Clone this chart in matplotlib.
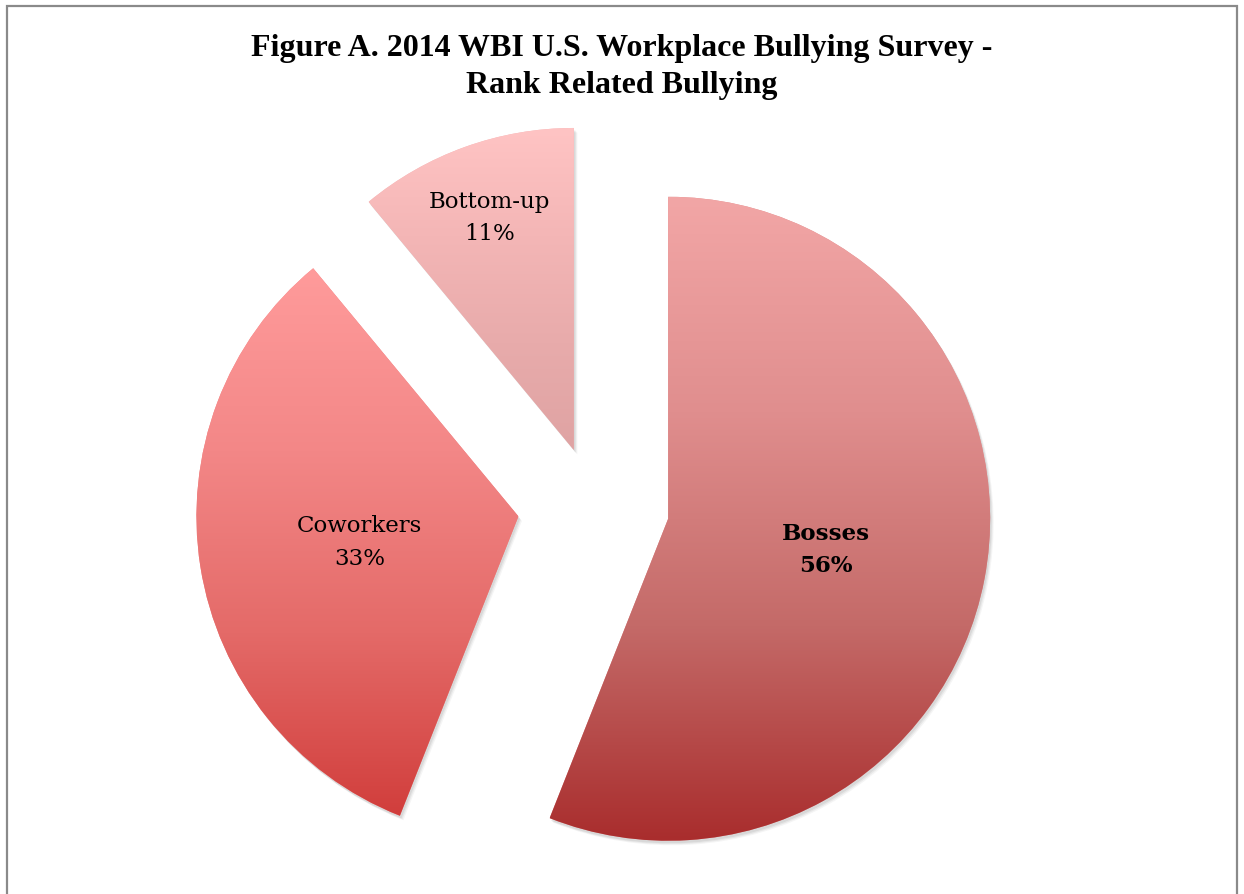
#!/usr/bin/env python3
"""
Figure A. 2014 WBI U.S. Workplace Bullying Survey - rank related bullying.
Exploded pie with vertical gradient fills per slice.
"""

import numpy as np
import matplotlib.pyplot as plt
from matplotlib.colors import LinearSegmentedColormap
from matplotlib.patches import Rectangle, Wedge

# =============================================================================
# DATA
# =============================================================================
LABELS = ["Bosses", "Coworkers", "Bottom-up"]
SHARES = [56, 33, 11]
EXPLODE = [0.236, 0.236, 0.18]
LABEL_POS = [0.50, 0.50, 0.77]      # fraction of radius along the bisector
LABEL_BOLD = [True, False, False]

# gradient stops (top -> bottom) for each slice
GRADIENTS = [
    ["#F2A6A6", "#E08E8E", "#C46A68", "#A92D2D"],
    ["#FF9B9B", "#F38787", "#E46A68", "#D13E3C"],
    ["#FFC4C4", "#F4B6B6", "#E8ABAB", "#DFA3A3"],
]

TITLE = "Figure A. 2014 WBI U.S. Workplace Bullying Survey -\nRank Related Bullying"

# =============================================================================
# LAYOUT (pixels of the 1244x895 canvas)
# =============================================================================
W, H = 1244, 895
CX, CY = 593.5, 505.5   # pie centre (px, from top-left)
R_PX = 322.0            # radius in px


def add_gradient(ax, wedge, colors):
    x0, y0, x1, y1 = wedge.get_path().get_extents(wedge.get_patch_transform()).extents
    cmap = LinearSegmentedColormap.from_list("g", colors)
    grad = np.linspace(0, 1, 256).reshape(-1, 1)
    im = ax.imshow(grad, cmap=cmap, aspect="auto", origin="upper",
                   extent=(x0, x1, y0, y1), interpolation="bicubic", zorder=2)
    im.set_clip_path(wedge)


def main() -> None:
    fig = plt.figure(figsize=(W / 100, H / 100), dpi=100)
    ax = fig.add_axes([0, 0, 1, 1])

    wedges, _ = ax.pie(SHARES, explode=EXPLODE, startangle=90, counterclock=False,
                       radius=1.0, wedgeprops=dict(linewidth=0))

    px = 1.0 / R_PX
    for i, w in enumerate(wedges):
        w.set_zorder(2)
        w.set_facecolor(GRADIENTS[i][1])
        # soft drop shadow
        for k, a in enumerate([0.10, 0.08, 0.06]):
            sh = Wedge((w.center[0] + (1.5 + k) * px, w.center[1] - (2.5 + k) * px),
                       w.r, w.theta1, w.theta2, facecolor="#555555",
                       edgecolor="none", alpha=a, zorder=1)
            ax.add_patch(sh)
        add_gradient(ax, w, GRADIENTS[i])

        thetam = np.deg2rad(0.5 * (w.theta1 + w.theta2))
        tx = w.center[0] + LABEL_POS[i] * w.r * np.cos(thetam)
        ty = w.center[1] + LABEL_POS[i] * w.r * np.sin(thetam)
        ax.text(tx, ty, f"{LABELS[i]}\n{SHARES[i]}%", ha="center", va="center",
                fontsize=16.5, family="DejaVu Serif", linespacing=1.6,
                fontweight="bold" if LABEL_BOLD[i] else "normal",
                color="black", zorder=5)

    ax.set_xlim(-CX / R_PX, (W - CX) / R_PX)
    ax.set_ylim((CY - H) / R_PX, CY / R_PX)
    ax.set_aspect("equal")
    ax.axis("off")

    fig.text(0.5, 1 - 67 / H, TITLE, ha="center", va="center",
             fontsize=23, fontweight="bold", family="Liberation Serif",
             linespacing=1.35)

    # chart frame
    fig.patches.append(Rectangle((7 / W, -0.05), (W - 14) / W, 1.05 - 7 / H,
                                 transform=fig.transFigure, fill=False,
                                 edgecolor="#8A8A8A", linewidth=1.6))

    fig.savefig("out.png", dpi=100)
    plt.close(fig)


if __name__ == "__main__":
    main()
